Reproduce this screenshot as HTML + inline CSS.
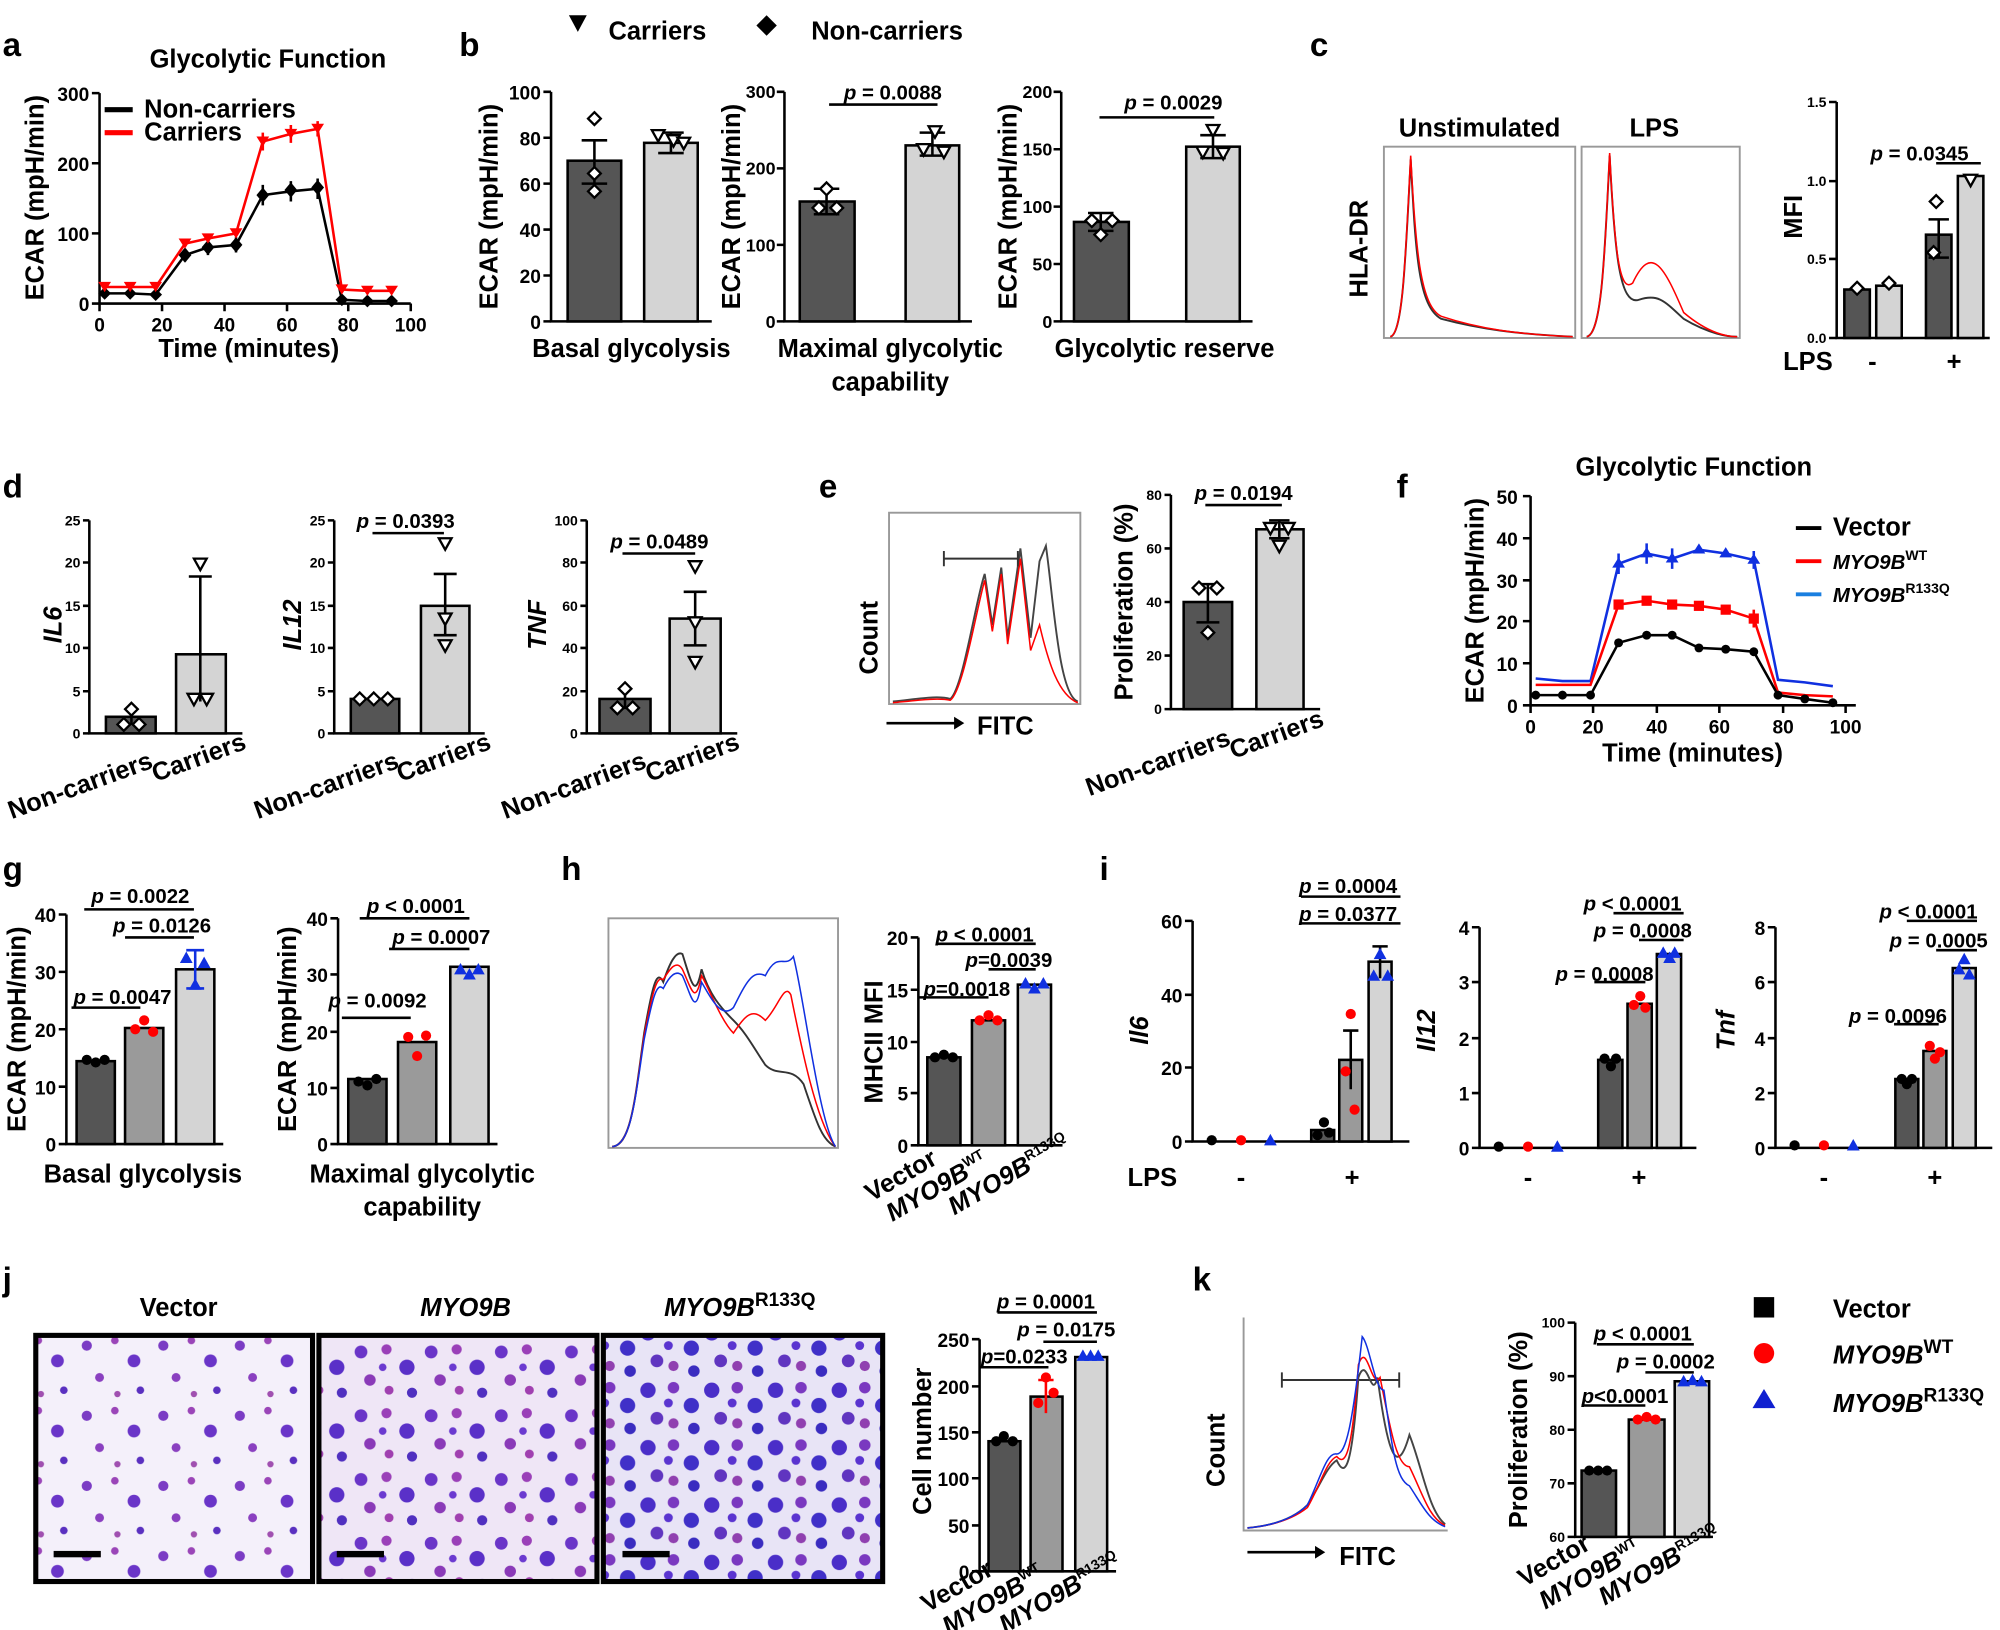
<!DOCTYPE html>
<html><head><meta charset="utf-8"><style>
html,body{margin:0;padding:0;background:#fff}
svg{display:block}
text{font-family:"Liberation Sans",Arial,sans-serif;font-weight:bold;fill:#000}
.L{font-size:26px}
.ax{font-size:20px}
.tk{font-size:15px}
.ts{font-size:11px}
.p{font-size:16px}
.it{font-style:italic}
</style></head><body>
<svg width="2000" height="1630" viewBox="0 0 1568 1278" xmlns="http://www.w3.org/2000/svg">
<defs>
<pattern id="cells1" width="60" height="55" patternUnits="userSpaceOnUse">
<rect width="60" height="55" fill="#f4f0fa"/>
<circle cx="8" cy="10" r="4" fill="#7b3cc4"/><circle cx="30" cy="6" r="3" fill="#9a45b8"/>
<circle cx="45" cy="22" r="5" fill="#6a35c8"/><circle cx="18" cy="35" r="3.5" fill="#8a40c0"/>
<circle cx="50" cy="45" r="3" fill="#5a30c0"/><circle cx="32" cy="48" r="2.5" fill="#a050b0"/>
</pattern>
<pattern id="cells2" width="55" height="50" patternUnits="userSpaceOnUse">
<rect width="55" height="50" fill="#efe6f6"/>
<circle cx="8" cy="10" r="5" fill="#6a35c8"/><circle cx="28" cy="8" r="4" fill="#9a40b8"/>
<circle cx="44" cy="22" r="6" fill="#5a30c8"/><circle cx="15" cy="32" r="4.5" fill="#8a3ab8"/>
<circle cx="48" cy="42" r="4" fill="#5030c0"/><circle cx="30" cy="40" r="3.5" fill="#a040b0"/>
<circle cx="25" cy="22" r="3" fill="#6b3ad0"/>
</pattern>
<pattern id="cells3" width="50" height="45" patternUnits="userSpaceOnUse">
<rect width="50" height="45" fill="#e8e4f6"/>
<circle cx="8" cy="10" r="6" fill="#4a2ec8"/><circle cx="28" cy="8" r="4.5" fill="#7a38c0"/>
<circle cx="42" cy="22" r="6" fill="#4030c8"/><circle cx="15" cy="32" r="5" fill="#6035c0"/>
<circle cx="44" cy="40" r="4.5" fill="#3a2cc0"/><circle cx="28" cy="36" r="4" fill="#9040b0"/>
<circle cx="24" cy="20" r="3.5" fill="#5a34d0"/>
</pattern>
<path id="dm" d="M0,-5l5,5-5,5-5-5z" fill="#fff" stroke="#000" stroke-width="1.8"/>
<path id="tv" d="M-5,-4h10l-5,9z" fill="#fff" stroke="#000" stroke-width="1.8"/>
<circle id="bc" r="4" fill="#000"/>
<circle id="rc" r="4" fill="red"/>
<path id="bt" d="M0,-5l5,9h-10z" fill="#1030e0"/>
</defs>

<!-- ============ a ============ -->
<text x="2" y="44" class="L">a</text>
<text x="210" y="53" class="ax" text-anchor="middle">Glycolytic Function</text>
<g stroke="#000" stroke-width="2" fill="none">
<path d="M78,73V238H322"/>
<path d="M72,73H78M72,128H78M72,183H78M72,238H78"/>
<path d="M78,238v6M127,238v6M176,238v6M225,238v6M273,238v6M322,238v6"/>
</g>
<g class="tk" text-anchor="end"><text x="70" y="79">300</text><text x="70" y="134">200</text><text x="70" y="189">100</text><text x="70" y="244">0</text></g>
<g class="tk" text-anchor="middle"><text x="78" y="260">0</text><text x="127" y="260">20</text><text x="176" y="260">40</text><text x="225" y="260">60</text><text x="273" y="260">80</text><text x="322" y="260">100</text></g>
<text x="195" y="280" class="ax" text-anchor="middle">Time (minutes)</text>
<text transform="translate(34,155) rotate(-90)" class="ax" text-anchor="middle">ECAR (mpH/min)</text>
<line x1="82" y1="86" x2="104" y2="86" stroke="#000" stroke-width="4"/><text x="113" y="92" class="ax">Non-carriers</text>
<line x1="82" y1="104" x2="104" y2="104" stroke="red" stroke-width="4"/><text x="113" y="110" class="ax">Carriers</text>
<polyline fill="none" stroke="#000" stroke-width="2" points="82,230 102,230 122,231 145,200 163,194 185,192 206,153 228,150 249,148 268,235 288,236 307,236"/>
<polyline fill="none" stroke="red" stroke-width="2" points="82,225 102,225 122,225 145,191 163,187 185,183 206,111 228,105 249,101 268,227 288,228 307,228"/>
<g stroke="#000" stroke-width="2"><path d="M206,145v16M228,142v16M249,140v16M163,188v12M185,186v12M145,195v10"/></g>
<g stroke="red" stroke-width="2"><path d="M206,104v14M228,98v14M249,95v12"/></g>
<g fill="#000"><path d="M206,147l5,6-5,6-5-6zM228,143l5,6-5,6-5-6zM249,141l5,6-5,6-5-6zM145,194l5,6-5,6-5-6zM163,188l5,6-5,6-5-6zM185,186l5,6-5,6-5-6zM82,225l5,5-5,5-5-5zM102,225l5,5-5,5-5-5zM122,226l5,5-5,5-5-5zM268,230l5,5-5,5-5-5zM288,231l5,5-5,5-5-5zM307,231l5,5-5,5-5-5z"/></g>
<g fill="red"><path d="M201,107h10l-5,8zM223,101h10l-5,8zM244,97h10l-5,8zM140,187h10l-5,8zM158,183h10l-5,8zM180,179h10l-5,8zM77,221h10l-5,8zM97,221h10l-5,8zM117,221h10l-5,8zM263,223h10l-5,8zM283,224h10l-5,8zM302,224h10l-5,8z"/></g>

<!-- ============ b ============ -->
<text x="360" y="44" class="L">b</text>
<path d="M446,12h14l-7,13z" fill="#000"/><text x="477" y="31" class="ax">Carriers</text>
<path d="M601,12l8,8-8,8-8-8z" fill="#000"/><text x="636" y="31" class="ax">Non-carriers</text>
<g stroke="#000" stroke-width="2" fill="none"><path d="M432,72V252H558"/><path d="M426,72h6M426,108h6M426,144h6M426,180h6M426,216h6M426,252h6"/></g>
<g class="tk" text-anchor="end"><text x="424" y="78">100</text><text x="424" y="114">80</text><text x="424" y="150">60</text><text x="424" y="186">40</text><text x="424" y="222">20</text><text x="424" y="258">0</text></g>
<rect x="445" y="126" width="42" height="126" fill="#555" stroke="#000" stroke-width="2"/>
<rect x="505" y="112" width="42" height="140" fill="#d4d4d4" stroke="#000" stroke-width="2"/>
<path d="M466,110v34M456,110h20M456,144h20M526,104v16M516,104h20M516,120h20" stroke="#000" stroke-width="2"/>
<use href="#dm" x="466" y="93"/><use href="#dm" x="466" y="136"/><use href="#dm" x="466" y="150"/>
<use href="#tv" x="516" y="106"/><use href="#tv" x="528" y="110"/><use href="#tv" x="536" y="112"/>
<text transform="translate(390,162) rotate(-90)" class="ax" text-anchor="middle">ECAR (mpH/min)</text>
<text x="495" y="280" class="ax" text-anchor="middle">Basal glycolysis</text>
<g stroke="#000" stroke-width="2" fill="none"><path d="M615,72V252H762"/><path d="M609,72h6M609,132h6M609,192h6M609,252h6"/></g>
<g class="tk" text-anchor="end" style="font-size:14px"><text x="608" y="77">300</text><text x="608" y="137">200</text><text x="608" y="197">100</text><text x="608" y="257">0</text></g>
<rect x="627" y="158" width="43" height="94" fill="#555" stroke="#000" stroke-width="2"/>
<rect x="710" y="114" width="42" height="138" fill="#d4d4d4" stroke="#000" stroke-width="2"/>
<path d="M648,148v20M638,148h20M638,168h20M731,104v18M721,104h20M721,122h20" stroke="#000" stroke-width="2"/>
<use href="#dm" x="648" y="148"/><use href="#dm" x="642" y="163"/><use href="#dm" x="656" y="163"/>
<use href="#tv" x="733" y="103"/><use href="#tv" x="724" y="117"/><use href="#tv" x="740" y="119"/>
<path d="M650,82H735" stroke="#000" stroke-width="2"/><text x="700" y="78" class="p" text-anchor="middle"><tspan class="it">p</tspan> = 0.0088</text>
<text transform="translate(580,162) rotate(-90)" class="ax" text-anchor="middle">ECAR (mpH/min)</text>
<text x="698" y="280" class="ax" text-anchor="middle">Maximal glycolytic</text><text x="698" y="306" class="ax" text-anchor="middle">capability</text>
<g stroke="#000" stroke-width="2" fill="none"><path d="M832,72V252H982"/><path d="M826,72h6M826,117h6M826,162h6M826,207h6M826,252h6"/></g>
<g class="tk" text-anchor="end" style="font-size:14px"><text x="825" y="77">200</text><text x="825" y="122">150</text><text x="825" y="167">100</text><text x="825" y="212">50</text><text x="825" y="257">0</text></g>
<rect x="842" y="174" width="43" height="78" fill="#555" stroke="#000" stroke-width="2"/>
<rect x="930" y="115" width="42" height="137" fill="#d4d4d4" stroke="#000" stroke-width="2"/>
<path d="M863,167v14M853,167h20M853,181h20M951,106v18M941,106h20M941,124h20" stroke="#000" stroke-width="2"/>
<use href="#dm" x="856" y="173"/><use href="#dm" x="872" y="173"/><use href="#dm" x="863" y="184"/>
<use href="#tv" x="951" y="102"/><use href="#tv" x="943" y="119"/><use href="#tv" x="959" y="120"/>
<path d="M862,92H952" stroke="#000" stroke-width="2"/><text x="920" y="86" class="p" text-anchor="middle"><tspan class="it">p</tspan> = 0.0029</text>
<text transform="translate(797,162) rotate(-90)" class="ax" text-anchor="middle">ECAR (mpH/min)</text>
<text x="913" y="280" class="ax" text-anchor="middle">Glycolytic reserve</text>

<!-- ============ c ============ -->
<text x="1027" y="44" class="L">c</text>
<text x="1160" y="107" class="ax" text-anchor="middle">Unstimulated</text><text x="1297" y="107" class="ax" text-anchor="middle">LPS</text>
<rect x="1085" y="115" width="150" height="150" fill="none" stroke="#999" stroke-width="1.5"/>
<rect x="1240" y="115" width="124" height="150" fill="none" stroke="#999" stroke-width="1.5"/>
<text transform="translate(1072,195) rotate(-90)" class="ax" text-anchor="middle">HLA-DR</text>
<path d="M1090,264C1100,262 1102,200 1106,125C1110,200 1112,240 1130,250C1160,258 1190,262 1233,264" fill="none" stroke="#333" stroke-width="1.5"/>
<path d="M1090,264C1100,262 1102,200 1106,122C1110,200 1114,240 1130,248C1160,258 1190,262 1233,264" fill="none" stroke="red" stroke-width="1.2"/>
<path d="M1244,264C1256,262 1258,200 1262,122C1266,200 1270,240 1285,235C1300,230 1305,236 1320,250C1340,262 1355,264 1362,264" fill="none" stroke="#333" stroke-width="1.5"/>
<path d="M1244,264C1256,262 1258,200 1262,120C1266,200 1270,230 1280,222C1295,190 1305,210 1320,245C1340,262 1355,264 1362,264" fill="none" stroke="red" stroke-width="1.2"/>
<g stroke="#000" stroke-width="2" fill="none"><path d="M1440,80V265H1560"/><path d="M1434,80h6M1434,142h6M1434,203h6M1434,265h6"/></g>
<g class="ts" text-anchor="end"><text x="1432" y="84">1.5</text><text x="1432" y="146">1.0</text><text x="1432" y="207">0.5</text><text x="1432" y="269">0.0</text></g>
<text transform="translate(1413,170) rotate(-90)" class="ax" text-anchor="middle">MFI</text>
<rect x="1446" y="227" width="20" height="38" fill="#555" stroke="#000" stroke-width="2"/>
<rect x="1471" y="224" width="20" height="41" fill="#d4d4d4" stroke="#000" stroke-width="2"/>
<rect x="1510" y="184" width="20" height="81" fill="#555" stroke="#000" stroke-width="2"/>
<rect x="1535" y="138" width="20" height="127" fill="#d4d4d4" stroke="#000" stroke-width="2"/>
<path d="M1520,172v30M1512,172h16M1512,202h16" stroke="#000" stroke-width="2"/>
<use href="#dm" x="1456" y="226"/><use href="#dm" x="1481" y="222"/><use href="#dm" x="1518" y="158"/><use href="#dm" x="1516" y="198"/><use href="#tv" x="1545" y="141"/>
<path d="M1518,128H1553" stroke="#000" stroke-width="2"/><text x="1505" y="126" class="p" text-anchor="middle"><tspan class="it">p</tspan> = 0.0345</text>
<text x="1398" y="290" class="ax">LPS</text><text x="1468" y="290" class="ax" text-anchor="middle">-</text><text x="1532" y="290" class="ax" text-anchor="middle">+</text>

<!-- ============ d ============ -->
<text x="2" y="390" class="L">d</text>
<g stroke="#000" stroke-width="2" fill="none"><path d="M70,408V575H190"/><path d="M65,408h5M65,441h5M65,475h5M65,508h5M65,542h5M65,575h5"/></g>
<g class="ts" text-anchor="end"><text x="63" y="412">25</text><text x="63" y="445">20</text><text x="63" y="479">15</text><text x="63" y="512">10</text><text x="63" y="546">5</text><text x="63" y="579">0</text></g>
<text transform="translate(48,490) rotate(-90)" class="ax it" text-anchor="middle">IL6</text>
<rect x="83" y="562" width="39" height="13" fill="#555" stroke="#000" stroke-width="2"/>
<rect x="138" y="513" width="39" height="62" fill="#d4d4d4" stroke="#000" stroke-width="2"/>
<path d="M157,452v98M148,452h18M103,556v12" stroke="#000" stroke-width="2"/>
<use href="#dm" x="103" y="556"/><use href="#dm" x="97" y="568"/><use href="#dm" x="109" y="568"/>
<use href="#tv" x="157" y="442"/><use href="#tv" x="152" y="548"/><use href="#tv" x="162" y="548"/>
<text transform="translate(65,622) rotate(-20)" class="ax" text-anchor="middle">Non-carriers</text>
<text transform="translate(158,600) rotate(-20)" class="ax" text-anchor="middle">Carriers</text>
<g stroke="#000" stroke-width="2" fill="none"><path d="M262,408V575H380"/><path d="M257,408h5M257,441h5M257,475h5M257,508h5M257,542h5M257,575h5"/></g>
<g class="ts" text-anchor="end"><text x="255" y="412">25</text><text x="255" y="445">20</text><text x="255" y="479">15</text><text x="255" y="512">10</text><text x="255" y="546">5</text><text x="255" y="579">0</text></g>
<text transform="translate(236,490) rotate(-90)" class="ax it" text-anchor="middle">IL12</text>
<rect x="275" y="548" width="38" height="27" fill="#555" stroke="#000" stroke-width="2"/>
<rect x="330" y="475" width="38" height="100" fill="#d4d4d4" stroke="#000" stroke-width="2"/>
<path d="M349,450v48M340,450h18M340,498h18" stroke="#000" stroke-width="2"/>
<use href="#dm" x="282" y="548"/><use href="#dm" x="293" y="548"/><use href="#dm" x="304" y="548"/>
<use href="#tv" x="349" y="426"/><use href="#tv" x="349" y="485"/><use href="#tv" x="349" y="506"/>
<path d="M292,418H348" stroke="#000" stroke-width="2"/><text x="318" y="414" class="p" text-anchor="middle"><tspan class="it">p</tspan> = 0.0393</text>
<text transform="translate(258,622) rotate(-20)" class="ax" text-anchor="middle">Non-carriers</text>
<text transform="translate(350,600) rotate(-20)" class="ax" text-anchor="middle">Carriers</text>
<g stroke="#000" stroke-width="2" fill="none"><path d="M460,408V575H578"/><path d="M455,408h5M455,441h5M455,475h5M455,508h5M455,542h5M455,575h5"/></g>
<g class="ts" text-anchor="end"><text x="453" y="412">100</text><text x="453" y="445">80</text><text x="453" y="479">60</text><text x="453" y="512">40</text><text x="453" y="546">20</text><text x="453" y="579">0</text></g>
<text transform="translate(428,490) rotate(-90)" class="ax it" text-anchor="middle">TNF</text>
<rect x="470" y="548" width="40" height="27" fill="#555" stroke="#000" stroke-width="2"/>
<rect x="525" y="485" width="40" height="90" fill="#d4d4d4" stroke="#000" stroke-width="2"/>
<path d="M545,464v42M536,464h18M536,506h18M490,541v15" stroke="#000" stroke-width="2"/>
<use href="#dm" x="490" y="540"/><use href="#dm" x="484" y="555"/><use href="#dm" x="496" y="555"/>
<use href="#tv" x="545" y="444"/><use href="#tv" x="545" y="488"/><use href="#tv" x="545" y="519"/>
<path d="M488,434H545" stroke="#000" stroke-width="2"/><text x="517" y="430" class="p" text-anchor="middle"><tspan class="it">p</tspan> = 0.0489</text>
<text transform="translate(452,622) rotate(-20)" class="ax" text-anchor="middle">Non-carriers</text>
<text transform="translate(545,600) rotate(-20)" class="ax" text-anchor="middle">Carriers</text>

<!-- ============ e ============ -->
<text x="642" y="390" class="L">e</text>
<rect x="697" y="402" width="150" height="150" fill="none" stroke="#999" stroke-width="1.5"/>
<path d="M700,550C720,548 735,545 745,548C755,540 765,470 772,450L778,490L785,445L790,500L800,430L808,500L815,440L820,428C826,470 830,545 845,550" fill="none" stroke="#444" stroke-width="1.5"/>
<path d="M700,551C720,549 735,547 745,549C755,542 765,480 772,455L778,495L785,450L790,505L800,438L808,510L815,490C822,520 830,545 845,551" fill="none" stroke="red" stroke-width="1.2"/>
<path d="M740,438H798M740,432v12M798,432v12" stroke="#333" stroke-width="1.5"/>
<text transform="translate(688,500) rotate(-90)" class="ax" text-anchor="middle">Count</text>
<path d="M695,567H752" stroke="#000" stroke-width="2"/><path d="M748,562l8,5-8,5z" fill="#000"/>
<text x="766" y="576" class="ax">FITC</text>
<g stroke="#000" stroke-width="2" fill="none"><path d="M918,388V556H1035"/><path d="M913,388h5M913,430h5M913,472h5M913,514h5M913,556h5"/></g>
<g class="ts" text-anchor="end"><text x="911" y="392">80</text><text x="911" y="434">60</text><text x="911" y="476">40</text><text x="911" y="518">20</text><text x="911" y="560">0</text></g>
<text transform="translate(888,472) rotate(-90)" class="ax" text-anchor="middle">Proliferation (%)</text>
<rect x="928" y="472" width="38" height="84" fill="#555" stroke="#000" stroke-width="2"/>
<rect x="985" y="415" width="37" height="141" fill="#d4d4d4" stroke="#000" stroke-width="2"/>
<path d="M947,458v30M938,458h18M938,488h18M1003,408v14M995,408h16M995,422h16" stroke="#000" stroke-width="2"/>
<use href="#dm" x="940" y="461"/><use href="#dm" x="954" y="461"/><use href="#dm" x="947" y="496"/>
<use href="#tv" x="996" y="414"/><use href="#tv" x="1010" y="414"/><use href="#tv" x="1003" y="428"/>
<path d="M945,396H1005" stroke="#000" stroke-width="2"/><text x="975" y="392" class="p" text-anchor="middle"><tspan class="it">p</tspan> = 0.0194</text>
<text transform="translate(910,604) rotate(-20)" class="ax" text-anchor="middle">Non-carriers</text>
<text transform="translate(1003,582) rotate(-20)" class="ax" text-anchor="middle">Carriers</text>

<!-- ============ f ============ -->
<text x="1095" y="390" class="L">f</text>
<text x="1328" y="373" class="ax" text-anchor="middle">Glycolytic Function</text>
<g stroke="#000" stroke-width="2" fill="none"><path d="M1200,389V553H1455"/>
<path d="M1194,389h6M1194,422h6M1194,455h6M1194,487h6M1194,520h6M1194,553h6"/>
<path d="M1200,553v6M1249,553v6M1299,553v6M1348,553v6M1398,553v6M1447,553v6"/></g>
<g class="tk" text-anchor="end"><text x="1190" y="395">50</text><text x="1190" y="428">40</text><text x="1190" y="461">30</text><text x="1190" y="493">20</text><text x="1190" y="526">10</text><text x="1190" y="559">0</text></g>
<g class="tk" text-anchor="middle"><text x="1200" y="575">0</text><text x="1249" y="575">20</text><text x="1299" y="575">40</text><text x="1348" y="575">60</text><text x="1398" y="575">80</text><text x="1447" y="575">100</text></g>
<text x="1327" y="597" class="ax" text-anchor="middle">Time (minutes)</text>
<text transform="translate(1163,471) rotate(-90)" class="ax" text-anchor="middle">ECAR (mpH/min)</text>
<g stroke="#1030e0" stroke-width="2"><path d="M1269,434v16M1291,426v16M1311,430v16M1375,432v14"/></g>
<g stroke="red" stroke-width="2"><path d="M1375,478v14"/></g>
<polyline fill="none" stroke="#1030e0" stroke-width="2" points="1204,532 1225,534 1247,534 1269,442 1291,434 1311,438 1332,431 1353,434 1375,439 1394,533 1415,535 1437,538"/>
<polyline fill="none" stroke="red" stroke-width="2" points="1204,537 1225,537 1247,537 1269,474 1291,471 1311,474 1332,475 1353,478 1375,485 1394,543 1415,545 1437,546"/>
<polyline fill="none" stroke="#000" stroke-width="2" points="1204,545 1225,545 1247,545 1269,504 1291,498 1311,498 1332,508 1353,509 1375,511 1394,545 1415,548 1437,551"/>
<g fill="#000"><circle cx="1204" cy="545" r="3.5"/><circle cx="1225" cy="545" r="3.5"/><circle cx="1247" cy="545" r="3.5"/><circle cx="1269" cy="504" r="3.5"/><circle cx="1291" cy="498" r="3.5"/><circle cx="1311" cy="498" r="3.5"/><circle cx="1332" cy="508" r="3.5"/><circle cx="1353" cy="509" r="3.5"/><circle cx="1375" cy="511" r="3.5"/><circle cx="1394" cy="545" r="3.5"/><circle cx="1415" cy="548" r="3.5"/><circle cx="1437" cy="551" r="3.5"/></g>
<g fill="red"><rect x="1265" y="470" width="8" height="8"/><rect x="1287" y="467" width="8" height="8"/><rect x="1307" y="470" width="8" height="8"/><rect x="1328" y="471" width="8" height="8"/><rect x="1349" y="474" width="8" height="8"/><rect x="1371" y="481" width="8" height="8"/></g>
<g fill="#1030e0"><path d="M1269,437l5,8h-10zM1291,429l5,8h-10zM1311,433l5,8h-10zM1332,426l5,8h-10zM1353,429l5,8h-10zM1375,434l5,8h-10z"/></g>
<line x1="1408" y1="414" x2="1428" y2="414" stroke="#000" stroke-width="3"/><text x="1437" y="420" class="ax">Vector</text>
<line x1="1408" y1="440" x2="1428" y2="440" stroke="red" stroke-width="3"/><text x="1437" y="446" class="p it">MYO9B<tspan class="ts" dy="-7" font-style="normal">WT</tspan></text>
<line x1="1408" y1="466" x2="1428" y2="466" stroke="#1a7fe0" stroke-width="3"/><text x="1437" y="472" class="p it">MYO9B<tspan class="ts" dy="-7" font-style="normal">R133Q</tspan></text>

<!-- ============ g ============ -->
<text x="2" y="690" class="L">g</text>
<g stroke="#000" stroke-width="2" fill="none"><path d="M52,717V897H175"/><path d="M46,717h6M46,762h6M46,807h6M46,852h6M46,897h6"/></g>
<g class="tk" text-anchor="end"><text x="44" y="723">40</text><text x="44" y="768">30</text><text x="44" y="813">20</text><text x="44" y="858">10</text><text x="44" y="903">0</text></g>
<text transform="translate(20,807) rotate(-90)" class="ax" text-anchor="middle">ECAR (mpH/min)</text>
<rect x="60" y="832" width="30" height="65" fill="#555" stroke="#000" stroke-width="2"/>
<rect x="98" y="806" width="30" height="91" fill="#9a9a9a" stroke="#000" stroke-width="2"/>
<rect x="138" y="760" width="30" height="137" fill="#d4d4d4" stroke="#000" stroke-width="2"/>
<path d="M153,745v30M146,745h14M146,775h14" stroke="#1030e0" stroke-width="2"/>
<use href="#bc" x="68" y="831"/><use href="#bc" x="75" y="833"/><use href="#bc" x="82" y="831"/>
<use href="#rc" x="106" y="807"/><use href="#rc" x="113" y="800"/><use href="#rc" x="120" y="809"/>
<use href="#bt" x="146" y="751"/><use href="#bt" x="153" y="772"/><use href="#bt" x="160" y="755"/>
<path d="M66,713H152M98,735H152M56,790H110" stroke="#000" stroke-width="2"/>
<text x="110" y="708" class="p" text-anchor="middle"><tspan class="it">p</tspan> = 0.0022</text>
<text x="127" y="731" class="p" text-anchor="middle"><tspan class="it">p</tspan> = 0.0126</text>
<text x="96" y="787" class="p" text-anchor="middle"><tspan class="it">p</tspan> = 0.0047</text>
<text x="112" y="927" class="ax" text-anchor="middle">Basal glycolysis</text>
<g stroke="#000" stroke-width="2" fill="none"><path d="M265,720V897H390"/><path d="M259,720h6M259,764h6M259,809h6M259,853h6M259,897h6"/></g>
<g class="tk" text-anchor="end"><text x="257" y="726">40</text><text x="257" y="770">30</text><text x="257" y="815">20</text><text x="257" y="859">10</text><text x="257" y="903">0</text></g>
<text transform="translate(232,807) rotate(-90)" class="ax" text-anchor="middle">ECAR (mpH/min)</text>
<rect x="273" y="846" width="30" height="51" fill="#555" stroke="#000" stroke-width="2"/>
<rect x="312" y="817" width="30" height="80" fill="#9a9a9a" stroke="#000" stroke-width="2"/>
<rect x="353" y="758" width="30" height="139" fill="#d4d4d4" stroke="#000" stroke-width="2"/>
<use href="#bc" x="281" y="848"/><use href="#bc" x="288" y="851"/><use href="#bc" x="295" y="846"/>
<use href="#rc" x="320" y="813"/><use href="#rc" x="327" y="828"/><use href="#rc" x="334" y="812"/>
<use href="#bt" x="361" y="760"/><use href="#bt" x="368" y="764"/><use href="#bt" x="375" y="760"/>
<path d="M282,720H368M305,744H368M268,798H322" stroke="#000" stroke-width="2"/>
<text x="326" y="716" class="p" text-anchor="middle"><tspan class="it">p</tspan> &lt; 0.0001</text>
<text x="346" y="740" class="p" text-anchor="middle"><tspan class="it">p</tspan> = 0.0007</text>
<text x="296" y="790" class="p" text-anchor="middle"><tspan class="it">p</tspan> = 0.0092</text>
<text x="331" y="927" class="ax" text-anchor="middle">Maximal glycolytic</text><text x="331" y="953" class="ax" text-anchor="middle">capability</text>

<!-- ============ h ============ -->
<text x="440" y="690" class="L">h</text>
<rect x="477" y="720" width="180" height="180" fill="none" stroke="#999" stroke-width="1.5"/>
<path d="M480,899C495,898 498,860 505,810C512,770 515,760 520,770C525,755 530,745 535,748C542,770 545,785 550,760C556,780 565,790 575,800C585,810 590,820 600,835C610,845 620,835 630,850C640,880 645,895 655,899" fill="none" stroke="#333" stroke-width="1.5"/>
<path d="M480,899C495,898 498,860 505,812C512,775 515,765 520,768C525,760 530,752 535,760C542,775 545,790 550,765C556,775 565,800 575,810C585,795 590,790 600,800C610,790 615,770 620,780C628,820 640,880 655,899" fill="none" stroke="red" stroke-width="1.2"/>
<path d="M480,899C495,898 498,860 505,815C512,780 515,770 520,775C525,765 530,760 535,765C542,780 545,800 550,770C556,780 565,800 575,790C585,770 590,760 600,765C610,745 615,760 622,750C630,780 642,880 655,899" fill="none" stroke="#1030e0" stroke-width="1.2"/>
<g stroke="#000" stroke-width="2" fill="none"><path d="M720,735V898H833"/><path d="M714,735h6M714,776h6M714,817h6M714,857h6M714,898h6"/></g>
<g class="tk" text-anchor="end"><text x="712" y="741">20</text><text x="712" y="782">15</text><text x="712" y="823">10</text><text x="712" y="863">5</text><text x="712" y="904">0</text></g>
<text transform="translate(692,817) rotate(-90)" class="ax" text-anchor="middle">MHCII MFI</text>
<rect x="727" y="829" width="26" height="69" fill="#555" stroke="#000" stroke-width="2"/>
<rect x="762" y="800" width="26" height="98" fill="#9a9a9a" stroke="#000" stroke-width="2"/>
<rect x="798" y="772" width="26" height="126" fill="#d4d4d4" stroke="#000" stroke-width="2"/>
<use href="#bc" x="733" y="829"/><use href="#bc" x="740" y="827"/><use href="#bc" x="747" y="829"/>
<use href="#rc" x="768" y="800"/><use href="#rc" x="775" y="796"/><use href="#rc" x="782" y="800"/>
<use href="#bt" x="804" y="771"/><use href="#bt" x="811" y="775"/><use href="#bt" x="818" y="771"/>
<path d="M735,740H812M775,760H812M720,782H775" stroke="#000" stroke-width="2"/>
<text x="772" y="738" class="p" text-anchor="middle"><tspan class="it">p</tspan> &lt; 0.0001</text>
<text x="791" y="758" class="p" text-anchor="middle"><tspan class="it">p</tspan>=0.0039</text>
<text x="758" y="781" class="p" text-anchor="middle"><tspan class="it">p</tspan>=0.0018</text>
<text transform="translate(736,912) rotate(-30)" class="ax" text-anchor="end">Vector</text>
<text transform="translate(776,914) rotate(-30)" class="ax it" text-anchor="end">MYO9B<tspan class="ts" dy="-8" font-style="normal">WT</tspan></text>
<text transform="translate(840,900) rotate(-30)" class="ax it" text-anchor="end">MYO9B<tspan class="ts" dy="-8" font-style="normal">R133Q</tspan></text>

<!-- ============ i ============ -->
<text x="862" y="690" class="L">i</text>
<text x="884" y="930" class="ax">LPS</text>
<g stroke="#000" stroke-width="2" fill="none"><path d="M935,722V895H1105"/><path d="M929,722h6M929,780h6M929,837h6M929,895h6"/></g>
<g class="tk" text-anchor="end"><text x="927" y="728">60</text><text x="927" y="786">40</text><text x="927" y="843">20</text><text x="927" y="901">0</text></g>
<text transform="translate(900,808) rotate(-90)" class="ax it" text-anchor="middle">Il6</text>
<use href="#bc" x="950" y="894"/><use href="#rc" x="973" y="894"/><use href="#bt" x="996" y="894"/>
<rect x="1028" y="886" width="18" height="9" fill="#555" stroke="#000" stroke-width="2"/>
<rect x="1050" y="831" width="18" height="64" fill="#9a9a9a" stroke="#000" stroke-width="2"/>
<rect x="1073" y="754" width="18" height="141" fill="#d4d4d4" stroke="#000" stroke-width="2"/>
<path d="M1059,808v46M1053,808h12M1082,742v25M1076,742h12" stroke="#000" stroke-width="2"/>
<use href="#bc" x="1033" y="890"/><use href="#bc" x="1038" y="880"/><use href="#bc" x="1042" y="888"/>
<use href="#rc" x="1059" y="795"/><use href="#rc" x="1055" y="840"/><use href="#rc" x="1062" y="870"/>
<use href="#bt" x="1077" y="765"/><use href="#bt" x="1082" y="748"/><use href="#bt" x="1088" y="765"/>
<path d="M1020,703H1098M1020,724H1098" stroke="#000" stroke-width="2"/>
<text x="1057" y="700" class="p" text-anchor="middle"><tspan class="it">p</tspan> = 0.0004</text>
<text x="1057" y="722" class="p" text-anchor="middle"><tspan class="it">p</tspan> = 0.0377</text>
<text x="973" y="930" class="ax" text-anchor="middle">-</text><text x="1060" y="930" class="ax" text-anchor="middle">+</text>
<g stroke="#000" stroke-width="2" fill="none"><path d="M1160,727V900H1330"/><path d="M1154,727h6M1154,770h6M1154,814h6M1154,857h6M1154,900h6"/></g>
<g class="tk" text-anchor="end"><text x="1152" y="733">4</text><text x="1152" y="776">3</text><text x="1152" y="820">2</text><text x="1152" y="863">1</text><text x="1152" y="906">0</text></g>
<text transform="translate(1125,808) rotate(-90)" class="ax it" text-anchor="middle">Il12</text>
<use href="#bc" x="1175" y="899"/><use href="#rc" x="1198" y="899"/><use href="#bt" x="1221" y="899"/>
<rect x="1253" y="831" width="19" height="69" fill="#555" stroke="#000" stroke-width="2"/>
<rect x="1276" y="787" width="19" height="113" fill="#9a9a9a" stroke="#000" stroke-width="2"/>
<rect x="1299" y="748" width="19" height="152" fill="#d4d4d4" stroke="#000" stroke-width="2"/>
<use href="#bc" x="1258" y="830"/><use href="#bc" x="1263" y="836"/><use href="#bc" x="1267" y="830"/>
<use href="#rc" x="1281" y="788"/><use href="#rc" x="1286" y="781"/><use href="#rc" x="1290" y="790"/>
<use href="#bt" x="1304" y="747"/><use href="#bt" x="1309" y="751"/><use href="#bt" x="1313" y="747"/>
<path d="M1265,716H1320M1285,737H1320M1250,770H1290" stroke="#000" stroke-width="2"/>
<text x="1280" y="714" class="p" text-anchor="middle"><tspan class="it">p</tspan> &lt; 0.0001</text>
<text x="1288" y="735" class="p" text-anchor="middle"><tspan class="it">p</tspan> = 0.0008</text>
<text x="1258" y="769" class="p" text-anchor="middle"><tspan class="it">p</tspan> = 0.0008</text>
<text x="1198" y="930" class="ax" text-anchor="middle">-</text><text x="1285" y="930" class="ax" text-anchor="middle">+</text>
<g stroke="#000" stroke-width="2" fill="none"><path d="M1392,727V900H1562"/><path d="M1386,727h6M1386,770h6M1386,814h6M1386,857h6M1386,900h6"/></g>
<g class="tk" text-anchor="end"><text x="1384" y="733">8</text><text x="1384" y="776">6</text><text x="1384" y="820">4</text><text x="1384" y="863">2</text><text x="1384" y="906">0</text></g>
<text transform="translate(1360,808) rotate(-90)" class="ax it" text-anchor="middle">Tnf</text>
<use href="#bc" x="1407" y="898"/><use href="#rc" x="1430" y="898"/><use href="#bt" x="1453" y="898"/>
<rect x="1486" y="846" width="18" height="54" fill="#555" stroke="#000" stroke-width="2"/>
<rect x="1508" y="824" width="18" height="76" fill="#9a9a9a" stroke="#000" stroke-width="2"/>
<rect x="1531" y="759" width="18" height="141" fill="#d4d4d4" stroke="#000" stroke-width="2"/>
<use href="#bc" x="1491" y="846"/><use href="#bc" x="1495" y="850"/><use href="#bc" x="1499" y="846"/>
<use href="#rc" x="1513" y="820"/><use href="#rc" x="1517" y="830"/><use href="#rc" x="1521" y="825"/>
<use href="#bt" x="1536" y="760"/><use href="#bt" x="1540" y="752"/><use href="#bt" x="1544" y="764"/>
<path d="M1495,722H1550M1518,745H1550M1485,803H1520" stroke="#000" stroke-width="2"/>
<text x="1512" y="720" class="p" text-anchor="middle"><tspan class="it">p</tspan> &lt; 0.0001</text>
<text x="1520" y="743" class="p" text-anchor="middle"><tspan class="it">p</tspan> = 0.0005</text>
<text x="1488" y="802" class="p" text-anchor="middle"><tspan class="it">p</tspan> = 0.0096</text>
<text x="1430" y="930" class="ax" text-anchor="middle">-</text><text x="1517" y="930" class="ax" text-anchor="middle">+</text>

<!-- ============ j ============ -->
<text x="2" y="1012" class="L">j</text>
<text x="140" y="1032" class="ax" text-anchor="middle">Vector</text>
<text x="365" y="1032" class="ax it" text-anchor="middle">MYO9B</text>
<text x="580" y="1032" class="ax it" text-anchor="middle">MYO9B<tspan class="tk" dy="-8" font-style="normal">R133Q</tspan></text>
<rect x="28" y="1047" width="217" height="193" fill="url(#cells1)" stroke="#000" stroke-width="4"/>
<rect x="250" y="1047" width="218" height="193" fill="url(#cells2)" stroke="#000" stroke-width="4"/>
<rect x="473" y="1047" width="219" height="193" fill="url(#cells3)" stroke="#000" stroke-width="4"/>
<g fill="#000"><rect x="42" y="1216" width="37" height="5"/><rect x="264" y="1216" width="37" height="5"/><rect x="488" y="1216" width="37" height="5"/></g>
<g stroke="#000" stroke-width="2" fill="none"><path d="M768,1050V1232H875"/><path d="M762,1050h6M762,1087h6M762,1123h6M762,1159h6M762,1196h6M762,1232h6"/></g>
<g class="tk" text-anchor="end"><text x="760" y="1056">250</text><text x="760" y="1093">200</text><text x="760" y="1129">150</text><text x="760" y="1165">100</text><text x="760" y="1202">50</text><text x="760" y="1238">0</text></g>
<text transform="translate(730,1130) rotate(-90)" class="ax" text-anchor="middle">Cell number</text>
<rect x="775" y="1130" width="25" height="102" fill="#555" stroke="#000" stroke-width="2"/>
<rect x="808" y="1095" width="25" height="137" fill="#9a9a9a" stroke="#000" stroke-width="2"/>
<rect x="843" y="1064" width="25" height="168" fill="#d4d4d4" stroke="#000" stroke-width="2"/>
<path d="M820,1082v26M814,1082h12" stroke="red" stroke-width="2"/>
<use href="#bc" x="781" y="1130"/><use href="#bc" x="787" y="1126"/><use href="#bc" x="794" y="1130"/>
<use href="#rc" x="814" y="1100"/><use href="#rc" x="820" y="1080"/><use href="#rc" x="826" y="1092"/>
<use href="#bt" x="849" y="1063"/><use href="#bt" x="855" y="1063"/><use href="#bt" x="861" y="1063"/>
<path d="M782,1029H860M818,1052H860M768,1072H822" stroke="#000" stroke-width="2"/>
<text x="820" y="1026" class="p" text-anchor="middle"><tspan class="it">p</tspan> = 0.0001</text>
<text x="836" y="1048" class="p" text-anchor="middle"><tspan class="it">p</tspan> = 0.0175</text>
<text x="803" y="1069" class="p" text-anchor="middle"><tspan class="it">p</tspan>=0.0233</text>
<text transform="translate(780,1234) rotate(-30)" class="ax" text-anchor="end">Vector</text>
<text transform="translate(820,1238) rotate(-30)" class="ax it" text-anchor="end">MYO9B<tspan class="ts" dy="-8" font-style="normal">WT</tspan></text>
<text transform="translate(880,1228) rotate(-30)" class="ax it" text-anchor="end">MYO9B<tspan class="ts" dy="-8" font-style="normal">R133Q</tspan></text>

<!-- ============ k ============ -->
<text x="935" y="1012" class="L">k</text>
<path d="M975,1033V1200H1135" fill="none" stroke="#999" stroke-width="1.5"/>
<path d="M1005,1082H1097M1005,1076v12M1097,1076v12" stroke="#333" stroke-width="1.5"/>
<path d="M978,1198C1000,1196 1015,1190 1025,1180C1035,1165 1040,1150 1048,1145C1055,1160 1060,1150 1065,1080C1072,1060 1075,1100 1080,1080C1088,1140 1095,1160 1105,1125C1115,1150 1120,1185 1133,1195" fill="none" stroke="#444" stroke-width="1.5"/>
<path d="M978,1198C1000,1196 1015,1190 1025,1182C1035,1165 1040,1145 1048,1142C1055,1150 1060,1140 1065,1070C1072,1050 1075,1090 1082,1080C1090,1120 1095,1150 1105,1150C1115,1170 1120,1190 1133,1196" fill="none" stroke="red" stroke-width="1.2"/>
<path d="M978,1198C1000,1196 1015,1190 1025,1180C1035,1160 1040,1138 1048,1140C1055,1140 1060,1120 1068,1048C1074,1055 1078,1090 1085,1090C1092,1140 1095,1160 1105,1165C1115,1180 1120,1192 1133,1197" fill="none" stroke="#1030e0" stroke-width="1.2"/>
<text transform="translate(960,1137) rotate(-90)" class="ax" text-anchor="middle">Count</text>
<path d="M978,1217H1035" stroke="#000" stroke-width="2"/><path d="M1031,1212l8,5-8,5z" fill="#000"/>
<text x="1050" y="1227" class="ax">FITC</text>
<g stroke="#000" stroke-width="2" fill="none"><path d="M1235,1037V1205H1343"/><path d="M1229,1037h6M1229,1079h6M1229,1121h6M1229,1163h6M1229,1205h6"/></g>
<g class="ts" text-anchor="end"><text x="1227" y="1041">100</text><text x="1227" y="1083">90</text><text x="1227" y="1125">80</text><text x="1227" y="1167">70</text><text x="1227" y="1209">60</text></g>
<text transform="translate(1197,1121) rotate(-90)" class="ax" text-anchor="middle">Proliferation (%)</text>
<rect x="1240" y="1153" width="27" height="52" fill="#555" stroke="#000" stroke-width="2"/>
<rect x="1277" y="1113" width="28" height="92" fill="#9a9a9a" stroke="#000" stroke-width="2"/>
<rect x="1313" y="1083" width="27" height="122" fill="#d4d4d4" stroke="#000" stroke-width="2"/>
<use href="#bc" x="1246" y="1153"/><use href="#bc" x="1253" y="1153"/><use href="#bc" x="1260" y="1153"/>
<use href="#rc" x="1284" y="1113"/><use href="#rc" x="1291" y="1111"/><use href="#rc" x="1298" y="1113"/>
<use href="#bt" x="1320" y="1083"/><use href="#bt" x="1327" y="1082"/><use href="#bt" x="1334" y="1083"/>
<path d="M1252,1054H1328M1290,1076H1328M1240,1102H1290" stroke="#000" stroke-width="2"/>
<text x="1288" y="1051" class="p" text-anchor="middle"><tspan class="it">p</tspan> &lt; 0.0001</text>
<text x="1306" y="1073" class="p" text-anchor="middle"><tspan class="it">p</tspan> = 0.0002</text>
<text x="1274" y="1100" class="p" text-anchor="middle"><tspan class="it">p</tspan>&lt;0.0001</text>
<text transform="translate(1248,1214) rotate(-30)" class="ax" text-anchor="end">Vector</text>
<text transform="translate(1288,1218) rotate(-30)" class="ax it" text-anchor="end">MYO9B<tspan class="ts" dy="-8" font-style="normal">WT</tspan></text>
<text transform="translate(1350,1206) rotate(-30)" class="ax it" text-anchor="end">MYO9B<tspan class="ts" dy="-8" font-style="normal">R133Q</tspan></text>
<rect x="1375" y="1017" width="16" height="16" fill="#000"/><text x="1437" y="1033" class="ax">Vector</text>
<circle cx="1383" cy="1061" r="8" fill="red"/><text x="1437" y="1069" class="ax it">MYO9B<tspan class="tk" dy="-8" font-style="normal">WT</tspan></text>
<path d="M1383,1089l9,15h-18z" fill="#1020d0"/><text x="1437" y="1107" class="ax it">MYO9B<tspan class="tk" dy="-8" font-style="normal">R133Q</tspan></text>
</svg>
</body></html>
